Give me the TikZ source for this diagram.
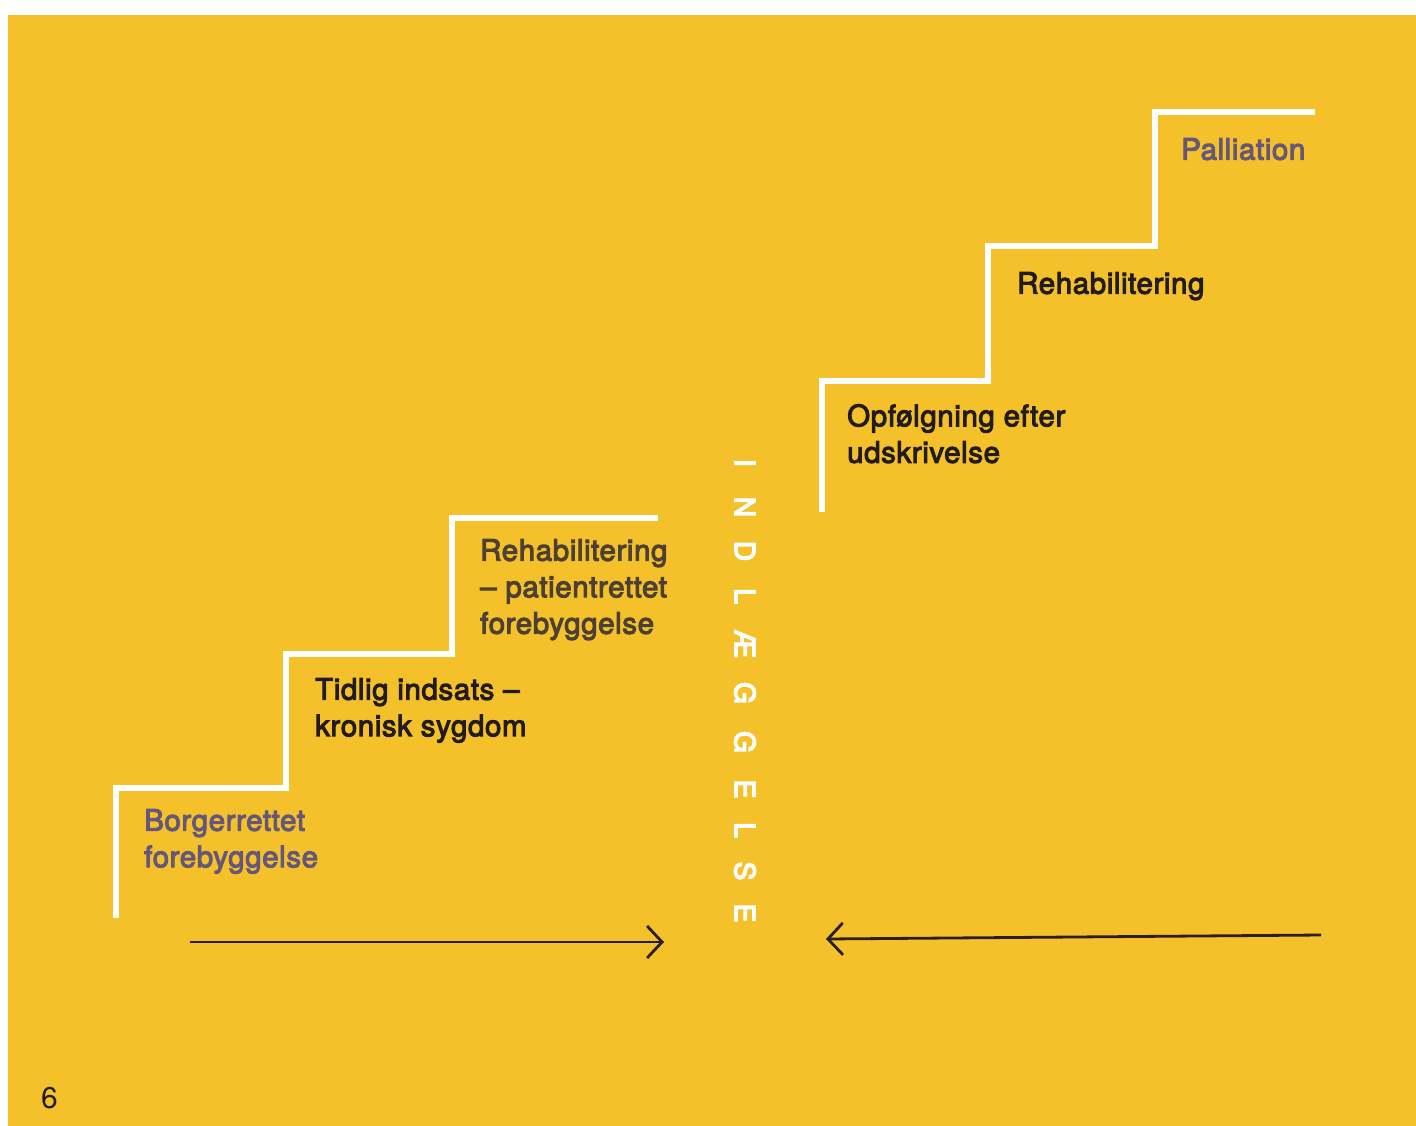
\documentclass[tikz,border=0pt]{standalone}
\usepackage{fontspec}
\setmainfont{TeX Gyre Heros}
\newfontfamily\stairfont{TeX Gyre Heros}[FakeBold=3.5, LetterSpace=2]
\newfontfamily\wordfont{TeX Gyre Heros}[FakeBold=5]
\usetikzlibrary{arrows.meta}
\definecolor{pageyellow}{HTML}{F5C12A}
\definecolor{inkblack}{HTML}{221C22}
\definecolor{inkbrown}{HTML}{4C4034}
\definecolor{inkpurple}{HTML}{64577A}
\definecolor{arrowdark}{HTML}{2A1E2A}

\begin{document}
\begin{tikzpicture}[x=1pt, y=-1pt,
    stair/.style = {draw=white, line width=6pt, line join=miter},
    steplabel/.style = {anchor=north west, inner sep=0pt, align=left,
        font=\stairfont\fontsize{29.5}{36.5}\selectfont},
    letter/.style = {white, rotate=-90, inner sep=0pt,
        font=\wordfont\fontsize{28}{28}\selectfont},
    flow/.style = {draw=arrowdark, line width=2.8pt,
        -{Straight Barb[length=15pt, width=32pt]}}]
    \useasboundingbox (0,0) rectangle (1416,1126);
    \fill[white] (0,0) rectangle (1416,1126);
    \fill[pageyellow] (8,15) rectangle (1416,1126);
    % left stairs
    \draw[stair] (116,918) -- (116,788) -- (286,788) -- (286,654)
        -- (452,654) -- (452,518) -- (658,518);
    % right stairs
    \draw[stair] (822,512) -- (822,381) -- (988,381) -- (988,246)
        -- (1155,246) -- (1155,112) -- (1315,112);
    \node[steplabel, text=inkpurple] (borger) at (144,809)
        {Borgerrettet\\forebyggelse};
    \node[steplabel, text=inkblack] (tidlig) at (315,678)
        {Tidlig indsats –\\kronisk sygdom};
    \node[steplabel, text=inkbrown] (rehabpat) at (480,539)
        {Rehabilitering\\– patientrettet\\forebyggelse};
    \node[steplabel, text=inkblack] (opfoelg) at (847,404)
        {Opfølgning efter\\udskrivelse};
    \node[steplabel, text=inkblack] (rehab) at (1017,272)
        {Rehabilitering};
    \node[steplabel, text=inkpurple] (palliation) at (1181,138)
        {Palliation};
    % vertical word
    \foreach \l/\y [count=\i] in {I/463, N/507, D/551, L/596, Æ/644, G/693,
        G/742, E/789, L/830, S/871, E/913}
        \node[letter] (ind\i) at (745,\y) {\l};
    % arrows
    \coordinate (inleft) at (190,942);
    \coordinate (inright) at (664,942);
    \coordinate (outright) at (1321,935);
    \coordinate (outleft) at (826,939);
    \draw[flow] (inleft) -- (inright);
    \draw[flow] (outright) -- (outleft);
    \node[anchor=north west, inner sep=0pt, text=inkblack,
        font=\fontsize{30}{30}\selectfont] (pagenum) at (41,1087) {6};
\end{tikzpicture}
\end{document}
